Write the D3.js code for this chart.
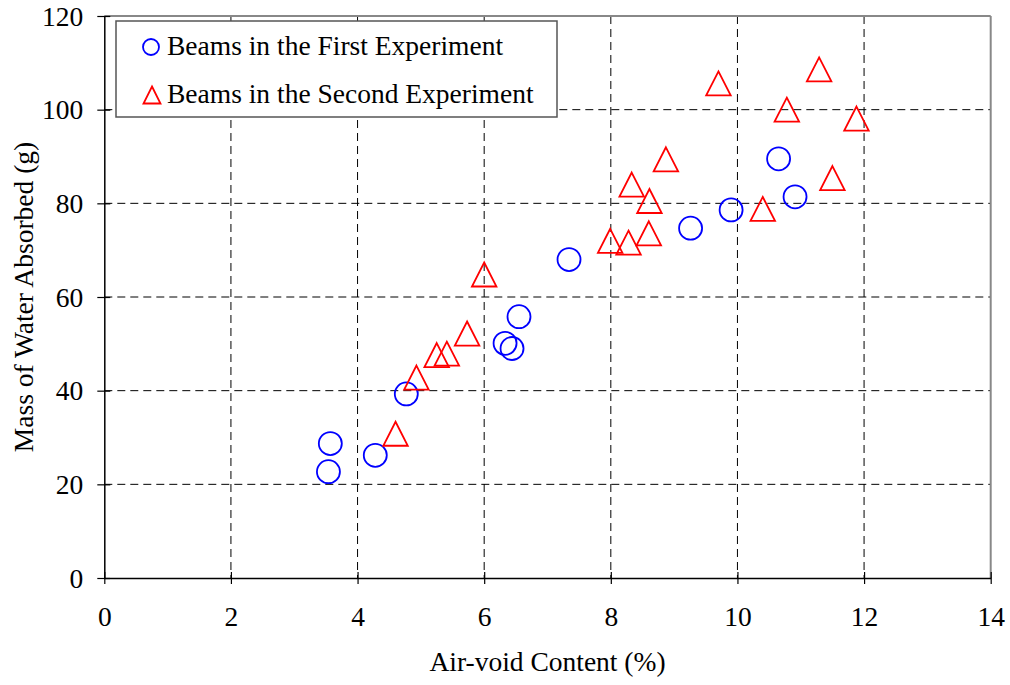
<!DOCTYPE html>
<html>
<head>
<meta charset="utf-8">
<script src="https://cdn.jsdelivr.net/npm/d3@7"></script>
<style>
  body { margin: 0; background: #fff; }
  text { font-family: "Liberation Serif", "Times New Roman", serif; fill: #000; }
</style>
</head>
<body>
<svg id="chart" width="1010" height="685"></svg>
<script>
const firstX = [3.57, 3.54, 4.28, 4.77, 6.33, 6.44, 6.55, 7.34, 9.26, 9.90, 10.65, 10.91];
const firstY = [28.7, 22.7, 26.2, 39.3, 50.1, 49.0, 55.8, 68.0, 74.7, 78.6, 89.5, 81.4];
const secondX = [4.60, 4.93, 5.25, 5.41, 5.73, 6.00, 7.99, 8.28, 8.60, 8.33, 8.61, 8.87, 10.40, 11.50, 9.70, 11.29, 10.78, 11.88];
const secondY = [30.8, 42.8, 47.6, 47.9, 52.2, 64.8, 72.0, 71.6, 73.6, 84.0, 80.5, 89.4, 78.8, 85.4, 105.6, 108.6, 100.0, 98.1];
const xTicks = [0, 2, 4, 6, 8, 10, 12, 14];
const yTicks = [0, 20, 40, 60, 80, 100, 120];
const seriesNames = ["Beams in the First Experiment", "Beams in the Second Experiment"];
const xTitle = "Air-void Content (%)";
const yTitle = "Mass of Water Absorbed (g)";

const svg = d3.select("#chart");
const L = 104.3, R = 990.7, T = 16, B = 578;
const x = d3.scaleLinear().domain([0, 14]).range([L, R]);
const y = d3.scaleLinear().domain([0, 120]).range([B, T]);
const FS = "27.5px";

// grid
const g = svg.append("g");
g.selectAll(".vg").data(xTicks.filter(d => d > 0 && d < 14)).enter().append("line")
  .attr("x1", d => x(d)).attr("x2", d => x(d)).attr("y1", T).attr("y2", B)
  .attr("stroke", "#000").attr("stroke-width", 1).attr("stroke-dasharray", "8,5");
g.selectAll(".hg").data(yTicks.filter(d => d > 0 && d < 120)).enter().append("line")
  .attr("x1", L).attr("x2", R).attr("y1", d => y(d)).attr("y2", d => y(d))
  .attr("stroke", "#000").attr("stroke-width", 1).attr("stroke-dasharray", "8,5");

// frame top/right gray
svg.append("line").attr("x1", L).attr("x2", R).attr("y1", T).attr("y2", T).attr("stroke", "#888").attr("stroke-width", 2);
svg.append("line").attr("x1", R).attr("x2", R).attr("y1", T).attr("y2", B).attr("stroke", "#888").attr("stroke-width", 2);

// axes
const xAxis = svg.append("g").attr("transform", `translate(0,${B})`)
  .call(d3.axisBottom(x).tickValues(xTicks).tickSize(6).tickSizeOuter(0).tickFormat(d3.format("d")));
xAxis.select(".domain").attr("stroke", "#000").attr("stroke-width", 1.5);
xAxis.selectAll(".tick line").attr("y1", -6).attr("y2", 6).attr("stroke", "#000").attr("stroke-width", 1.2);
xAxis.selectAll(".tick text").attr("y", 48).attr("dy", 0).style("font-size", FS).style("font-family", "Liberation Serif");

const yAxis = svg.append("g").attr("transform", `translate(${L},0)`)
  .call(d3.axisLeft(y).tickValues(yTicks).tickSize(6).tickSizeOuter(0).tickFormat(d3.format("d")));
yAxis.select(".domain").attr("stroke", "#000").attr("stroke-width", 1.5);
yAxis.selectAll(".tick line").attr("x1", -7).attr("x2", 6).attr("stroke", "#000").attr("stroke-width", 1.2);
yAxis.selectAll(".tick text").attr("x", -21).attr("dy", "0.33em").style("font-size", FS).style("font-family", "Liberation Serif");

// titles
svg.append("text").attr("x", (L + R) / 2).attr("y", 671).attr("text-anchor", "middle")
  .style("font-size", FS).text(xTitle);
svg.append("text").attr("transform", `translate(33,${(T + B) / 2}) rotate(-90)`).attr("text-anchor", "middle")
  .style("font-size", FS).text(yTitle);

// triangle path helper (bbox centered)
function tri(cx, cy, w, h) {
  return `M${cx},${cy - h / 2}L${cx + w / 2},${cy + h / 2}L${cx - w / 2},${cy + h / 2}Z`;
}

// series 1 circles
svg.append("g").selectAll("circle").data(firstX.map((v, i) => [v, firstY[i]])).enter().append("circle")
  .attr("cx", d => x(d[0])).attr("cy", d => y(d[1])).attr("r", 11.5)
  .attr("fill", "none").attr("stroke", "#0000ff").attr("stroke-width", 1.8);

// series 2 triangles
svg.append("g").selectAll("path").data(secondX.map((v, i) => [v, secondY[i]])).enter().append("path")
  .attr("d", d => tri(x(d[0]), y(d[1]), 24.5, 24))
  .attr("fill", "none").attr("stroke", "#ff0000").attr("stroke-width", 1.8);

// legend
const lg = svg.append("g");
lg.append("rect").attr("x", 116).attr("y", 21).attr("width", 441).attr("height", 96)
  .attr("fill", "#fff").attr("stroke", "#555").attr("stroke-width", 1.5);
lg.append("circle").attr("cx", 151).attr("cy", 47).attr("r", 8)
  .attr("fill", "none").attr("stroke", "#0000ff").attr("stroke-width", 1.8);
lg.append("path").attr("d", tri(152, 95, 17, 17))
  .attr("fill", "none").attr("stroke", "#ff0000").attr("stroke-width", 1.8);
lg.append("text").attr("x", 167).attr("y", 55).style("font-size", FS).text(seriesNames[0]);
lg.append("text").attr("x", 167).attr("y", 103).style("font-size", FS).text(seriesNames[1]);
</script>
</body>
</html>
